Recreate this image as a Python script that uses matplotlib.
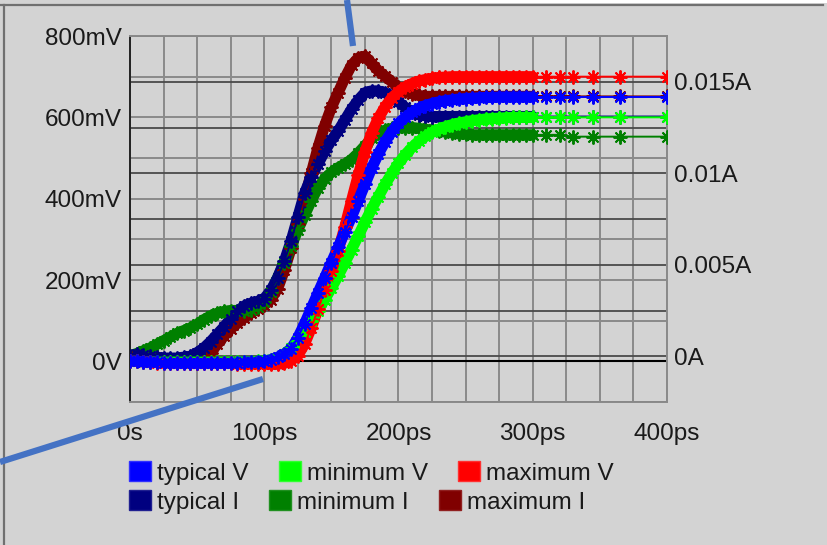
import matplotlib
matplotlib.use("Agg")
import matplotlib.pyplot as plt
import numpy as np
from matplotlib.lines import Line2D
from matplotlib.patches import Patch, Rectangle
from matplotlib.transforms import blended_transform_factory

# time samples in ps (dense up to 300ps, then sparse)
t_ps = [0, 5, 10, 15, 20, 25, 30, 35, 40, 45, 50, 55, 60, 65, 70, 75, 80, 85, 90, 95, 100,
        105, 110, 115, 120, 125, 130, 135, 140, 145, 150, 155, 160, 165, 170, 175, 180, 185, 190, 195, 200,
        205, 210, 215, 220, 225, 230, 235, 240, 245, 250, 255, 260, 265, 270, 275, 280, 285, 290, 295, 300,
        310, 320, 330, 345, 365, 400]

# voltages in mV (left axis)
typ_v = [0, 0, -1, -2, -2, -3, -3, -3, -3, -3, -3, -3, -3, -3, -3, -3, -3, -2, -2, -1, 0,
         4, 10, 18, 30, 58, 92, 130, 168, 205, 243, 280, 318, 355, 395, 435, 475, 510, 540, 565, 585,
         600, 612, 622, 629, 634, 638, 641, 643, 645, 646, 647, 648, 649, 649, 650, 650, 650, 650, 650, 650,
         650, 650, 650, 650, 650, 650]
min_v = [0, 0, -1, -1, -2, -2, -2, -2, -2, -2, -2, -2, -2, -2, -2, -2, -2, -1, -1, 0, 1,
         4, 9, 18, 32, 50, 72, 98, 125, 152, 180, 210, 242, 275, 308, 342, 375, 405, 435, 462, 487,
         508, 526, 541, 553, 563, 571, 577, 582, 586, 589, 592, 594, 596, 597, 598, 599, 600, 600, 600, 600,
         600, 600, 600, 600, 600, 600]
max_v = [0, 0, -1, -2, -3, -3, -4, -4, -4, -4, -4, -4, -4, -5, -5, -5, -6, -6, -6, -6, -6,
         -7, -7, -5, 2, 14, 42, 82, 128, 175, 222, 272, 330, 395, 458, 515, 562, 598, 626, 648, 663,
         675, 683, 689, 693, 696, 698, 699, 700, 700, 700, 700, 700, 700, 700, 700, 700, 700, 700, 700, 700,
         700, 700, 700, 700, 700, 700]

# currents in mA (right axis)
typ_i = [0, 0.1, 0.05, 0, -0.05, -0.1, -0.1, -0.1, -0.05, 0, 0.2, 0.45, 0.8, 1.2, 1.6, 2.05, 2.45, 2.75, 2.9, 3.0, 3.15,
         3.6, 4.3, 5.2, 6.3, 7.6, 8.9, 9.8, 10.5, 11.2, 11.8, 12.3, 12.9, 13.5, 14.0, 14.4, 14.5, 14.5, 14.4, 14.2, 13.9,
         13.6, 13.35, 13.2, 13.15, 13.1, 13.1, 13.1, 13.1, 13.1, 13.1, 13.1, 13.1, 13.1, 13.1, 13.1, 13.1, 13.1, 13.1, 13.1, 13.1,
         13.1, 13.1, 13.1, 13.1, 13.1, 13.1]
min_i = [0, 0.15, 0.3, 0.45, 0.65, 0.85, 1.05, 1.25, 1.4, 1.55, 1.75, 2.0, 2.2, 2.35, 2.45, 2.5, 2.5, 2.5, 2.55, 2.7, 2.95,
         3.5, 4.3, 5.1, 6.0, 6.9, 7.7, 8.5, 9.2, 9.7, 10.05, 10.3, 10.5, 10.75, 11.1, 11.5, 11.9, 12.2, 12.35, 12.45, 12.5,
         12.5, 12.5, 12.45, 12.4, 12.35, 12.3, 12.25, 12.2, 12.15, 12.15, 12.1, 12.1, 12.1, 12.1, 12.1, 12.1, 12.1, 12.1, 12.1, 12.1,
         12.1, 12.1, 12.0, 12.0, 12.0, 12.0]
max_i = [0, 0, -0.1, -0.15, -0.2, -0.25, -0.3, -0.3, -0.3, -0.35, -0.35, -0.2, 0.2, 0.65, 1.1, 1.5, 1.8, 2.1, 2.35, 2.6, 2.8,
         3.1, 3.7, 4.7, 5.9, 7.2, 8.6, 10.0, 11.4, 12.6, 13.6, 14.4, 15.2, 15.9, 16.3, 16.4, 16.0, 15.6, 15.3, 15.0, 14.7,
         14.5, 14.35, 14.25, 14.2, 14.2, 14.2, 14.2, 14.2, 14.2, 14.2, 14.2, 14.2, 14.2, 14.2, 14.2, 14.2, 14.2, 14.2, 14.2, 14.2,
         14.2, 14.2, 14.2, 14.2, 14.2, 14.2]

x_ticks = [0, 100, 200, 300, 400]
x_labels = ["0s", "100ps", "200ps", "300ps", "400ps"]
v_ticks = [0, 200, 400, 600, 800]
v_labels = ["0V", "200mV", "400mV", "600mV", "800mV"]
i_ticks = [0, 5, 10, 15]
i_labels = ["0A", "0.005A", "0.01A", "0.015A"]

BG = "#d3d3d3"
TXT = "#1a1a1a"
plt.rcParams["font.family"] = ["Liberation Sans", "DejaVu Sans"]
plt.rcParams["font.size"] = 17.5

W, H = 828, 545
fig = plt.figure(figsize=(W / 100, H / 100), dpi=100, facecolor=BG)

# host axes carries the currents (right ticks), twin carries voltages (left ticks) so V is drawn on top
ax = fig.add_axes([130 / W, 1 - 402 / H, 537 / W, 366 / H])
ax.set_facecolor(BG)
axv = ax.twinx()
ax.set_xlim(0, 400)
ax.set_ylim(-2.5, 17.5)
axv.set_ylim(-100, 800)

# grid, all on host axes so it stays under every curve
for x in np.arange(0, 401, 25):
    ax.axvline(x, color="#8a8a8a", lw=1.4, zorder=0)
vtrans = blended_transform_factory(ax.transAxes, axv.transData)
for v in np.arange(-100, 801, 100):
    ax.plot([0, 1], [v, v], color="#8a8a8a", lw=1.4, transform=vtrans, zorder=0.5)
for i in np.arange(-2.5, 17.6, 2.5):
    ax.axhline(i, color="#4a4a4a", lw=1.3, zorder=0.6)
ax.plot([0, 1], [0, 0], color="black", lw=1.5, transform=vtrans, zorder=0.7)

t = np.array(t_ps)
dense = t <= 300
star = (8, 2, 0)


def draw(a, y, color):
    y = np.array(y)
    a.plot(t[dense], y[dense], color=color, lw=8, solid_capstyle="round", solid_joinstyle="round", zorder=2)
    a.plot(t, y, color=color, lw=1.4, marker=star, ms=10, mec=color, mew=1.4, zorder=3)


draw(ax, max_i, "#800000")
draw(ax, min_i, "#008000")
draw(ax, typ_i, "#000080")
draw(axv, min_v, "#00ff00")
draw(axv, max_v, "#ff0000")
draw(axv, typ_v, "#0000ff")

ax.set_xticks(x_ticks, x_labels)
ax.tick_params(axis="x", length=0, pad=15, colors=TXT)
ax.yaxis.tick_right()
ax.set_yticks(i_ticks, i_labels)
ax.tick_params(axis="y", length=0, pad=5, colors=TXT)
axv.yaxis.tick_left()
axv.set_yticks(v_ticks, v_labels)
axv.tick_params(axis="y", length=0, pad=6, colors=TXT)

for s in ["top", "right", "bottom"]:
    ax.spines[s].set_color("#8a8a8a")
    ax.spines[s].set_linewidth(1.4)
ax.spines["left"].set_color("#222222")
ax.spines["left"].set_linewidth(1.4)
for s in axv.spines.values():
    s.set_visible(False)

# legend, two rows laid out like the original
row1 = [Patch(facecolor="#0000ff", edgecolor="#3030ff", label="typical V"),
        Patch(facecolor="#00ff00", edgecolor="#30ff30", label="minimum V"),
        Patch(facecolor="#ff0000", edgecolor="#ff3030", label="maximum V")]
row2 = [Patch(facecolor="#000080", edgecolor="#202090", label="typical I"),
        Patch(facecolor="#008000", edgecolor="#209020", label="minimum I"),
        Patch(facecolor="#800000", edgecolor="#902020", label="maximum I")]
for handles, yc in [(row1, 473), (row2, 502)]:
    lg = fig.legend(handles=handles, loc="center left", bbox_to_anchor=(129 / W, 1 - yc / H),
                    ncol=3, frameon=False, borderpad=0, borderaxespad=0,
                    handlelength=0.9, handleheight=0.9, handletextpad=0.25, columnspacing=1.25)
    for tx in lg.get_texts():
        tx.set_color(TXT)

# window borders of the screenshot
fig.add_artist(Rectangle((400 / W, 1 - 3 / H), 1, 3 / H, transform=fig.transFigure,
                         facecolor="white", edgecolor="none"))
fig.add_artist(Line2D([0, 823 / W], [1 - 4.5 / H] * 2, color="#707070", lw=1.6, transform=fig.transFigure))
fig.add_artist(Line2D([4 / W] * 2, [0, 1 - 4.5 / H], color="#707070", lw=1.6, transform=fig.transFigure))

# blue annotation strokes
fig.add_artist(Line2D([347 / W, 353 / W], [1.0, 1 - 46 / H], color="#4472c4", lw=4.5,
                      solid_capstyle="butt", transform=fig.transFigure))
fig.add_artist(Line2D([0, 263 / W], [1 - 462 / H, 1 - 379 / H], color="#4472c4", lw=4.5,
                      solid_capstyle="butt", transform=fig.transFigure))

fig.savefig("out.png", dpi=100, facecolor=BG)
